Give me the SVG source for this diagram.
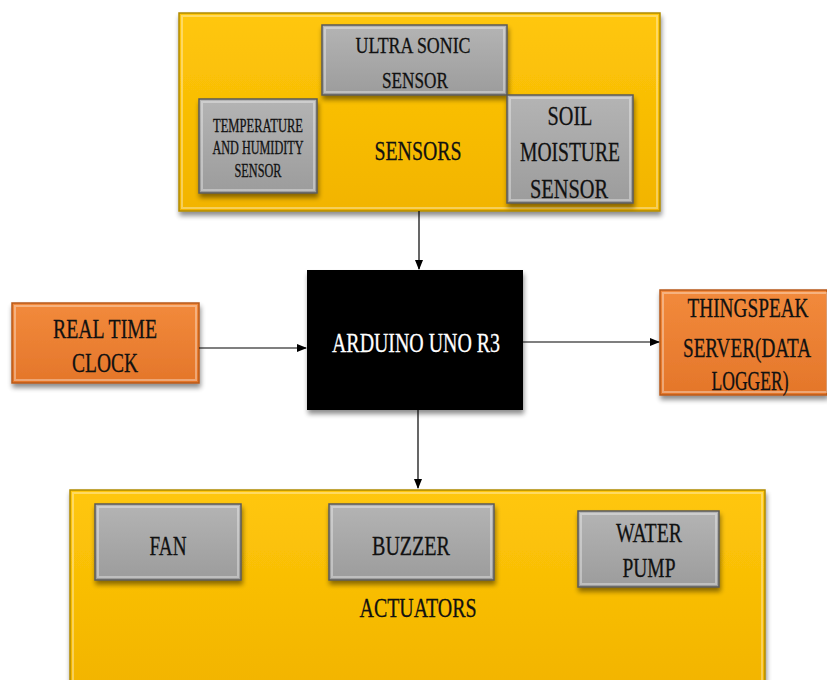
<svg xmlns="http://www.w3.org/2000/svg" width="827" height="680" viewBox="0 0 827 680">
<defs>
<linearGradient id="gy" x1="0" y1="0" x2="0" y2="1"><stop offset="0" stop-color="#ffc70a"/><stop offset="1" stop-color="#f2b400"/></linearGradient>
<linearGradient id="gg" x1="0" y1="0" x2="0" y2="1"><stop offset="0" stop-color="#b4b4b4"/><stop offset="1" stop-color="#9c9c9c"/></linearGradient>
<linearGradient id="go" x1="0" y1="0" x2="0" y2="1"><stop offset="0" stop-color="#f28a3c"/><stop offset="1" stop-color="#e4762a"/></linearGradient>
<filter id="sh" x="-10%" y="-10%" width="125%" height="130%"><feGaussianBlur in="SourceAlpha" stdDeviation="2.5"/><feOffset dx="1" dy="4"/><feComponentTransfer><feFuncA type="linear" slope="0.45"/></feComponentTransfer><feMerge><feMergeNode/><feMergeNode in="SourceGraphic"/></feMerge></filter>
<marker id="ah" markerWidth="10" markerHeight="8" refX="9" refY="4" orient="auto" markerUnits="userSpaceOnUse"><path d="M0,0 L10,4 L0,8 z" fill="#000"/></marker>
</defs>
<style>
.yb{fill:url(#gy);stroke:#b08a00;stroke-width:1.5;filter:url(#sh)}
.gb{fill:url(#gg);stroke:#5a5a5a;stroke-width:1.5;filter:url(#sh)}
.ob{fill:url(#go);stroke:#b85a18;stroke-width:1.5;filter:url(#sh)}
.bev{fill:none;stroke:#ffffff;stroke-opacity:0.35;stroke-width:2}
.t{font-family:"Liberation Serif","Times New Roman",serif;fill:#111;stroke:#111;stroke-width:0.3;text-anchor:middle}
.w{fill:#fff;stroke:#fff}
.c{stroke:#000;stroke-width:1.2;fill:none}
</style>
<g id="sensors">
<rect class="yb" x="179" y="13" width="481" height="198"/>
<rect class="bev" x="182" y="16" width="475" height="192" stroke-opacity="0.25"/>
<text class="t" x="418" y="160" font-size="28" textLength="87" lengthAdjust="spacingAndGlyphs">SENSORS</text>
</g>
<g id="ultrasonic">
<rect class="gb" x="322" y="25" width="185" height="70"/>
<rect class="bev" x="325" y="28" width="179" height="64"/>
<text class="t" x="413" y="53" font-size="24" textLength="115" lengthAdjust="spacingAndGlyphs">ULTRA SONIC</text>
<text class="t" x="415" y="88" font-size="24" textLength="66" lengthAdjust="spacingAndGlyphs">SENSOR</text>
</g>
<g id="temperature">
<rect class="gb" x="199" y="99" width="118" height="94"/>
<rect class="bev" x="202" y="102" width="112" height="88"/>
<text class="t" x="258" y="132" font-size="18" textLength="90" lengthAdjust="spacingAndGlyphs">TEMPERATURE</text>
<text class="t" x="258" y="154" font-size="18" textLength="91" lengthAdjust="spacingAndGlyphs">AND HUMIDITY</text>
<text class="t" x="258" y="177" font-size="18" textLength="47" lengthAdjust="spacingAndGlyphs">SENSOR</text>
</g>
<g id="soil">
<rect class="gb" x="507" y="95" width="126" height="108"/>
<rect class="bev" x="510" y="98" width="120" height="102"/>
<text class="t" x="570" y="125" font-size="28" textLength="45" lengthAdjust="spacingAndGlyphs">SOIL</text>
<text class="t" x="570" y="161" font-size="28" textLength="100" lengthAdjust="spacingAndGlyphs">MOISTURE</text>
<text class="t" x="569" y="198" font-size="28" textLength="78" lengthAdjust="spacingAndGlyphs">SENSOR</text>
</g>
<g id="arduino">
<rect x="307" y="270" width="216" height="140" fill="#000" filter="url(#sh)"/>
<text class="t w" x="416" y="352" font-size="28" textLength="168" lengthAdjust="spacingAndGlyphs">ARDUINO UNO R3</text>
</g>
<g id="rtc">
<rect class="ob" x="12" y="303" width="187" height="80"/>
<rect class="bev" x="15" y="306" width="181" height="74"/>
<text class="t" x="105" y="338" font-size="28" textLength="104" lengthAdjust="spacingAndGlyphs">REAL TIME</text>
<text class="t" x="105" y="372" font-size="28" textLength="66" lengthAdjust="spacingAndGlyphs">CLOCK</text>
</g>
<g id="thingspeak">
<rect class="ob" x="660" y="290" width="167" height="105"/>
<rect class="bev" x="663" y="293" width="164" height="99"/>
<text class="t" transform="translate(748,317) scale(0.7,1)" x="0" y="0" font-size="28" textLength="173" lengthAdjust="spacingAndGlyphs">THINGSPEAK</text>
<text class="t" transform="translate(747,357) scale(0.7,1)" x="0" y="0" font-size="28" textLength="183" lengthAdjust="spacingAndGlyphs">SERVER(DATA</text>
<text class="t" transform="translate(750,390) scale(0.7,1)" x="0" y="0" font-size="28" textLength="110" lengthAdjust="spacingAndGlyphs">LOGGER)</text>
</g>
<g id="actuators">
<rect class="yb" x="70" y="490" width="695" height="200"/>
<rect class="bev" x="73" y="493" width="689" height="200" stroke-opacity="0.25"/>
<text class="t" x="418" y="617" font-size="28" textLength="117" lengthAdjust="spacingAndGlyphs">ACTUATORS</text>
</g>
<g id="fan">
<rect class="gb" x="95" y="504" width="146" height="76"/>
<rect class="bev" x="98" y="507" width="140" height="70"/>
<text class="t" x="168" y="555" font-size="28" textLength="37" lengthAdjust="spacingAndGlyphs">FAN</text>
</g>
<g id="buzzer">
<rect class="gb" x="329" y="504" width="165" height="76"/>
<rect class="bev" x="332" y="507" width="159" height="70"/>
<text class="t" x="411" y="555" font-size="28" textLength="78" lengthAdjust="spacingAndGlyphs">BUZZER</text>
</g>
<g id="waterpump">
<rect class="gb" x="578" y="511" width="141" height="76"/>
<rect class="bev" x="581" y="514" width="135" height="70"/>
<text class="t" x="649" y="542" font-size="27" textLength="66" lengthAdjust="spacingAndGlyphs">WATER</text>
<text class="t" x="649" y="577" font-size="27" textLength="53" lengthAdjust="spacingAndGlyphs">PUMP</text>
</g>
<g id="connectors">
<line class="c" x1="419" y1="211" x2="419" y2="269" marker-end="url(#ah)"/>
<line class="c" x1="199" y1="348" x2="306" y2="348" marker-end="url(#ah)"/>
<line class="c" x1="523" y1="342" x2="659" y2="342" marker-end="url(#ah)"/>
<line class="c" x1="418" y1="410" x2="418" y2="488" marker-end="url(#ah)"/>
</g>
</svg>
